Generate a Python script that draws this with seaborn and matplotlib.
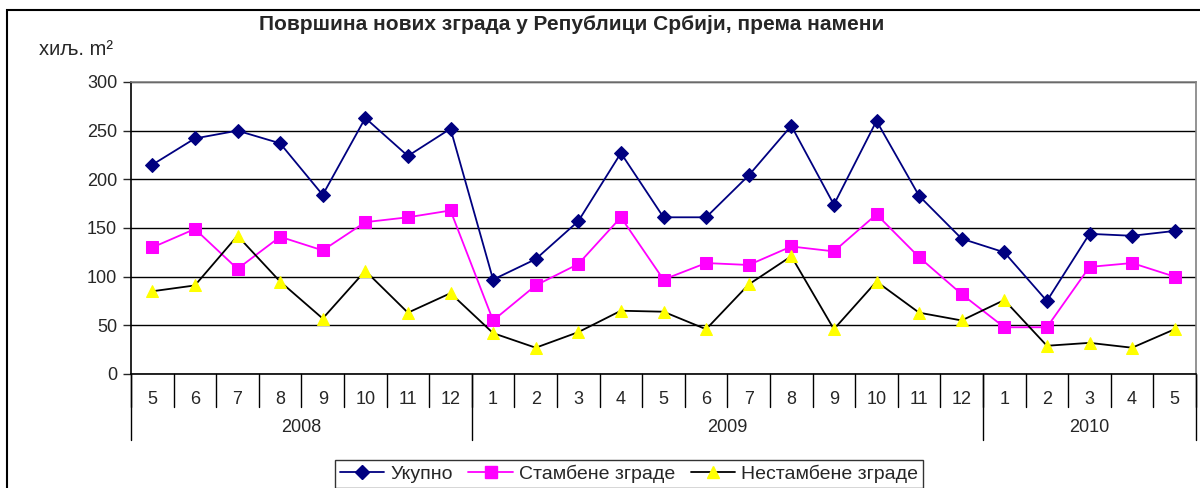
import numpy as np
import pandas as pd
import matplotlib.pyplot as plt
from matplotlib.patches import Rectangle
from matplotlib.lines import Line2D
import seaborn as sns

# podaci (хиљ. m²), 5/2008 - 5/2010
months = ['5', '6', '7', '8', '9', '10', '11', '12',
          '1', '2', '3', '4', '5', '6', '7', '8', '9', '10', '11', '12',
          '1', '2', '3', '4', '5']
years = ['2008', '2009', '2010']
year_len = [8, 12, 5]

ukupno = [215, 242, 250, 237, 184, 263, 224, 252,
          97, 118, 157, 227, 161, 161, 204, 255, 174, 260, 183, 139,
          125, 75, 144, 142, 147]
stambene = [130, 149, 108, 141, 127, 156, 161, 168,
            55, 91, 113, 161, 97, 114, 112, 131, 126, 164, 120, 82,
            48, 48, 110, 114, 100]
nestambene = [85, 91, 142, 95, 57, 106, 63, 83,
              42, 27, 43, 65, 64, 46, 92, 121, 46, 95, 63, 55,
              76, 29, 32, 27, 46]

names = ['Укупно', 'Стамбене зграде', 'Нестамбене зграде']

df = pd.DataFrame({'pos': np.arange(len(months)),
                   names[0]: ukupno, names[1]: stambene, names[2]: nestambene})
df = df.melt(id_vars='pos', var_name='serija', value_name='vrednost')

sns.set_style('white')
plt.rcParams['font.family'] = ['Liberation Sans', 'DejaVu Sans']

W, H = 1200, 488
fig = plt.figure(figsize=(12, 4.88), dpi=100)
ax = fig.add_axes([131 / W, 1 - 374 / H, (1196 - 131) / W, (374 - 82) / H])

palette = {names[0]: '#000080', names[1]: '#ff00ff', names[2]: '#000000'}
sns.lineplot(data=df, x='pos', y='vrednost', hue='serija', style='serija',
             palette=palette, markers={names[0]: 'D', names[1]: 's', names[2]: '^'},
             dashes=False, linewidth=1.3, markersize=8, ax=ax, legend=False)

# boje markera
for line, mfc in zip(ax.get_lines(), ['#000080', '#ff00ff', '#ffff00']):
    line.set_markerfacecolor(mfc)
    line.set_markeredgecolor(mfc)
ax.get_lines()[0].set_markersize(7)
ax.get_lines()[2].set_markersize(9)

ax.set_xlim(-0.5, len(months) - 0.5)
ax.set_ylim(0, 300)
ax.set_yticks(range(0, 301, 50))
ax.tick_params(axis='y', labelsize=13, length=6, width=1, direction='out', left=True, pad=4)
ax.yaxis.grid(True, color='black', linewidth=1)
ax.set_axisbelow(True)

ax.set_xticks(range(len(months)))
ax.set_xticklabels(months, fontsize=13)
ax.tick_params(axis='x', length=0, pad=12)
ax.set_xlabel('')
ax.set_ylabel('')

for s in ['top', 'right']:
    ax.spines[s].set_color('#808080')
    ax.spines[s].set_linewidth(1.2)
for s in ['left', 'bottom']:
    ax.spines[s].set_color('black')
    ax.spines[s].set_linewidth(1.2)

# razdjelnici kategorija
trans = ax.get_xaxis_transform()
for b in np.arange(len(months) + 1) - 0.5:
    ax.plot([b, b], [0, -33 / 292], transform=trans, color='black', lw=1, clip_on=False)
start = -0.5
for y, n in zip(years, year_len):
    ax.plot([start, start], [0, -66 / 292], transform=trans, color='black', lw=1, clip_on=False)
    ax.text(start + n / 2, -54 / 292, y, transform=trans, ha='center', va='center', fontsize=13)
    start += n
ax.plot([start, start], [0, -66 / 292], transform=trans, color='black', lw=1, clip_on=False)

fig.text(572 / W, 1 - 24 / H, 'Површина нових зграда у Републици Србији, према намени',
         ha='center', va='center', fontsize=15, fontweight='bold')
fig.text(39 / W, 1 - 50 / H, 'хиљ. m²', ha='left', va='center', fontsize=14.5)

# legenda
handles = [Line2D([], [], color='#000080', marker='D', mfc='#000080', mec='#000080', ms=7, lw=1.3),
           Line2D([], [], color='#ff00ff', marker='s', mfc='#ff00ff', mec='#ff00ff', ms=8, lw=1.3),
           Line2D([], [], color='black', marker='^', mfc='#ffff00', mec='#ffff00', ms=9, lw=1.3)]
leg = fig.legend(handles, names, loc='upper center', bbox_to_anchor=(629 / W, 1 - 460 / H),
                 ncol=3, frameon=True, fancybox=False, fontsize=14, handlelength=2.3,
                 columnspacing=0.8, handletextpad=0.3, borderpad=0.25, borderaxespad=0)
leg.get_frame().set_edgecolor('black')
leg.get_frame().set_linewidth(1)

# okvir slike
fig.patches.append(Rectangle((7 / W, -0.2), 1.2, 1.2 - 10 / H, transform=fig.transFigure,
                             fill=False, edgecolor='black', linewidth=1.5, clip_on=False))

fig.savefig('out.png', dpi=100)
